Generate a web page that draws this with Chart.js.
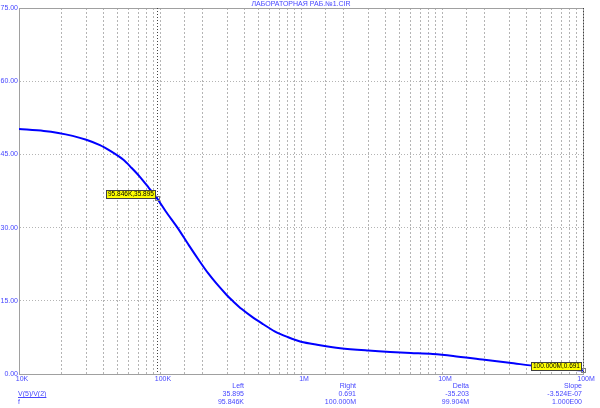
<!DOCTYPE html>
<html>
<head>
<meta charset="utf-8">
<script src="https://cdn.jsdelivr.net/npm/chart.js@4"></script>
<style>
  html, body { margin: 0; padding: 0; background: #fff; }
  #wrap { width: 600px; height: 408px; }
</style>
</head>
<body>
<div id="wrap"><canvas id="bode"></canvas></div>
<script>
// frequency response V(5)/V(2)
var freqHz = [10000, 15000, 19000, 24000, 30000, 37500, 45000, 55000, 63000, 72000,
              83000, 95846, 110000, 133000, 160000, 192000, 220000, 252000, 297000, 330000,
              380000, 450000, 540000, 650000, 800000, 1000000, 1300000, 1900000, 3000000, 4300000,
              6000000, 8600000, 12000000, 20000000, 30000000, 47000000, 70000000, 100000000];
var gain = [50.2, 49.8, 49.4, 48.8, 48.0, 46.9, 45.6, 43.9, 42.2, 40.4,
            38.2, 35.896, 33.3, 30.0, 26.4, 23.0, 20.6, 18.5, 16.2, 14.9,
            13.3, 11.7, 10.2, 8.75, 7.6, 6.6, 6.0, 5.3, 4.8, 4.5,
            4.3, 4.1, 3.7, 2.9, 2.3, 1.6, 1.1, 0.691];

var decadeLabels = {10000: "10K", 100000: "100K", 1000000: "1M", 10000000: "10M", 100000000: "100M"};

var cursorFreq = [95846, 100000000];
var cursorGain = [35.896, 0.691];
var cursorText = ["95.846K,35.895", "100.000M,0.691"];

var readoutHeads = ["Left", "Right", "Delta", "Slope"];
var readoutRow1 = ["35.895", "0.691", "-35.203", "-3.524E-07"];
var readoutRow2 = ["95.846K", "100.000M", "99.904M", "1.000E00"];

var titleText = "ЛАБОРАТОРНАЯ РАБ.№1.CIR";
var exprText = "V(5)/V(2)";
var varText = "f";

var blueText = "#4646ff";
var gridGrey = "#b4b4b4";
var fontName = "'Liberation Sans', Arial, sans-serif";

var points = freqHz.map(function(f, i) { return {x: f, y: gain[i]}; });

var extras = {
    id: "extras",
    beforeDatasetsDraw: function(chart) {
        var ctx = chart.ctx, a = chart.chartArea;
        var xs = chart.scales.x;
        ctx.save();
        // frame
        ctx.strokeStyle = "#a0a0a0";
        ctx.lineWidth = 1;
        ctx.strokeRect(Math.round(a.left) + 0.5, Math.round(a.top) + 0.5,
                       Math.round(a.right - a.left), Math.round(a.bottom - a.top));
        // cursor lines
        ctx.strokeStyle = "#404040";
        ctx.setLineDash([1, 2]);
        cursorFreq.forEach(function(f) {
            var px = Math.round(xs.getPixelForValue(f)) + 0.5;
            ctx.beginPath();
            ctx.moveTo(px, a.top);
            ctx.lineTo(px, a.bottom);
            ctx.stroke();
        });
        ctx.restore();
    },
    afterDatasetsDraw: function(chart) {
        var ctx = chart.ctx;
        var xs = chart.scales.x, ys = chart.scales.y;
        ctx.save();
        ctx.textBaseline = "middle";
        ctx.font = "6.5px " + fontName;
        for (var i = 0; i < cursorFreq.length; i++) {
            var px = xs.getPixelForValue(cursorFreq[i]);
            var py = ys.getPixelForValue(cursorGain[i]);
            // marker
            ctx.strokeStyle = "#808080";
            ctx.lineWidth = 1;
            ctx.strokeRect(Math.round(px) - 1.5, Math.round(py) - 2.5, 4, 4);
            // label box
            var w = Math.round(ctx.measureText(cursorText[i]).width + 3);
            var bx = Math.round(px - 2 - w), by = Math.round(py - 9);
            ctx.fillStyle = "#ffff00";
            ctx.fillRect(bx, by, w, 8);
            ctx.strokeStyle = "#404040";
            ctx.strokeRect(bx + 0.5, by + 0.5, w, 8);
            ctx.fillStyle = "#000";
            ctx.textAlign = "left";
            ctx.fillText(cursorText[i], bx + 2, by + 4.5);
        }
        ctx.font = "7px " + fontName;
        // title
        ctx.fillStyle = blueText;
        ctx.textAlign = "center";
        ctx.fillText(titleText, 301, 4.5);
        // readouts
        var colX = [244, 356, 469, 582];
        ctx.textAlign = "right";
        for (var j = 0; j < readoutHeads.length; j++) {
            ctx.fillText(readoutHeads[j], colX[j], 386);
            ctx.fillText(readoutRow1[j], colX[j], 394);
            ctx.fillText(readoutRow2[j], colX[j], 402);
        }
        ctx.textAlign = "left";
        ctx.fillText(exprText, 18, 394);
        var ew = ctx.measureText(exprText).width;
        ctx.fillRect(18, 397, ew, 1);
        ctx.fillText(varText, 18, 402);
        ctx.restore();
    }
};

new Chart(document.getElementById("bode"), {
    type: "line",
    data: {
        datasets: [{
            label: exprText,
            data: points,
            borderColor: "#0000ff",
            borderWidth: 2,
            pointRadius: 0,
            fill: false,
            tension: 0.3
        }]
    },
    options: {
        responsive: true,
        maintainAspectRatio: false,
        animation: false,
        layout: { padding: { top: 8, left: 0, right: 17, bottom: 0 } },
        plugins: {
            legend: { display: false },
            tooltip: { enabled: false }
        },
        scales: {
            x: {
                type: "logarithmic",
                min: 10000,
                max: 100000000,
                grid: { color: gridGrey, drawTicks: false, lineWidth: 1 },
                border: { display: true, color: "#a0a0a0", dash: [2, 2] },
                ticks: {
                    padding: 1,
                    labelOffset: 3,
                    maxRotation: 0,
                    autoSkip: false,
                    color: blueText,
                    font: { family: fontName, size: 7 },
                    callback: function(v) { return decadeLabels[v] || ""; }
                },
                afterFit: function(s) {
                    s.height = 34;
                    s.paddingLeft = 0;
                    s.paddingRight = 0;
                }
            },
            y: {
                min: 0,
                max: 75,
                grid: { color: gridGrey, drawTicks: false, lineWidth: 1 },
                border: { display: true, color: "#a0a0a0", dash: [1, 2] },
                ticks: {
                    stepSize: 15,
                    padding: 1,
                    color: blueText,
                    font: { family: fontName, size: 7 },
                    callback: function(v) { return v.toFixed(2); }
                },
                afterFit: function(s) {
                    s.width = 19;
                    s.paddingTop = 0;
                    s.paddingBottom = 0;
                }
            }
        }
    },
    plugins: [extras]
});
</script>
</body>
</html>
